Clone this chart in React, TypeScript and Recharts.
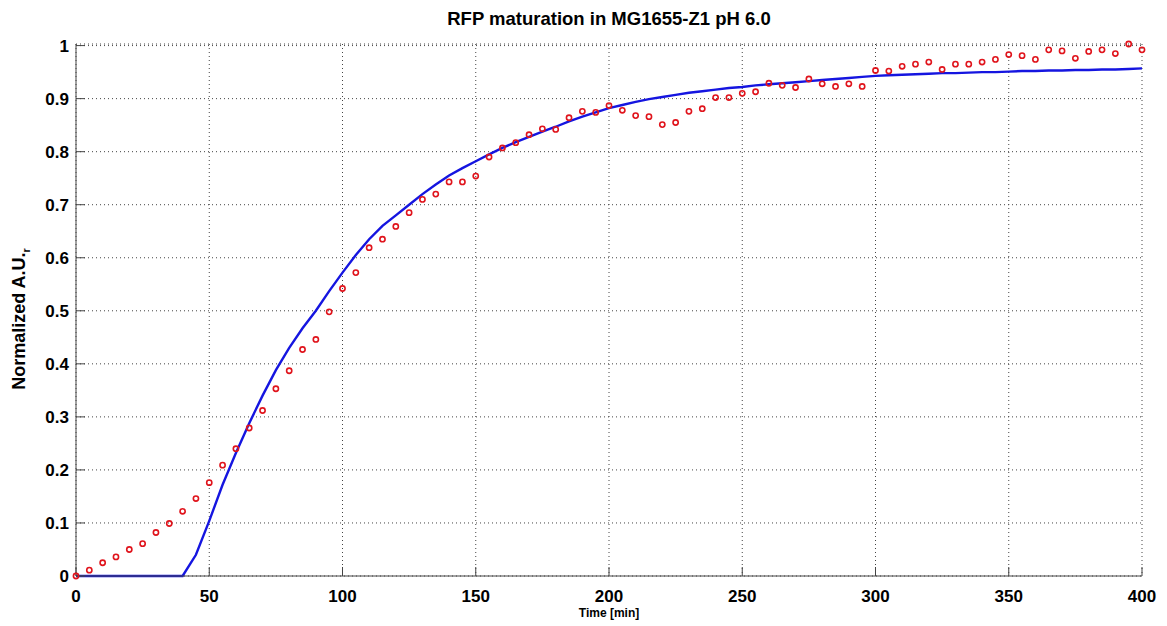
import React from 'react';
import { ComposedChart, Line, Scatter, XAxis, YAxis, CartesianGrid, Customized } from 'recharts';

// sampling times [min]
const times = [
  0, 5, 10, 15, 20, 25, 30, 35, 40, 45, 50, 55, 60, 65, 70, 75, 80, 85, 90, 95,
  100, 105, 110, 115, 120, 125, 130, 135, 140, 145, 150, 155, 160, 165, 170, 175, 180, 185, 190, 195,
  200, 205, 210, 215, 220, 225, 230, 235, 240, 245, 250, 255, 260, 265, 270, 275, 280, 285, 290, 295,
  300, 305, 310, 315, 320, 325, 330, 335, 340, 345, 350, 355, 360, 365, 370, 375, 380, 385, 390, 395, 400
];

// measured normalized fluorescence (red circles)
const measured = [
  0, 0.011, 0.025, 0.036, 0.05, 0.061, 0.082, 0.099, 0.122, 0.146, 0.176, 0.209, 0.24, 0.279, 0.312, 0.353, 0.387, 0.427, 0.446, 0.498,
  0.542, 0.572, 0.619, 0.635, 0.659, 0.685, 0.71, 0.72, 0.743, 0.743, 0.754, 0.79, 0.807, 0.817, 0.832, 0.843, 0.842, 0.864, 0.876, 0.874,
  0.887, 0.878, 0.868, 0.866, 0.851, 0.855, 0.876, 0.881, 0.902, 0.902, 0.91, 0.913, 0.929, 0.925, 0.921, 0.937, 0.928, 0.923, 0.928, 0.923,
  0.953, 0.952, 0.961, 0.965, 0.969, 0.955, 0.965, 0.965, 0.969, 0.974, 0.983, 0.981, 0.974, 0.992, 0.99, 0.976, 0.989, 0.992, 0.985, 1.003, 0.992
];

// model fit (blue line)
const fitted = [
  0, 0, 0, 0, 0, 0, 0, 0, 0, 0.04, 0.104, 0.172, 0.232, 0.288, 0.34, 0.388, 0.43, 0.467, 0.5, 0.537,
  0.572, 0.605, 0.635, 0.66, 0.68, 0.7, 0.72, 0.738, 0.755, 0.769, 0.782, 0.795, 0.807, 0.818, 0.828, 0.838, 0.847, 0.857, 0.866, 0.874,
  0.882, 0.888, 0.894, 0.899, 0.903, 0.907, 0.911, 0.914, 0.917, 0.92, 0.922, 0.925, 0.927, 0.929, 0.931, 0.933, 0.935, 0.937, 0.939, 0.941,
  0.943, 0.944, 0.945, 0.946, 0.947, 0.948, 0.948, 0.949, 0.95, 0.95, 0.951, 0.952, 0.952, 0.953, 0.953, 0.954, 0.954, 0.955, 0.955, 0.956, 0.957
];

const xTicks = [0, 50, 100, 150, 200, 250, 300, 350, 400];
const yTicks = [0, 0.1, 0.2, 0.3, 0.4, 0.5, 0.6, 0.7, 0.8, 0.9, 1];

const data = times.map((t, i) => ({ t, measured: measured[i], fitted: fitted[i] }));

const FONT = "'Liberation Sans', Arial, sans-serif";
const W = 1151;
const H = 617;

const Labels = () => (
  <g fontFamily={FONT} fontWeight="bold" fill="#000">
    <text x={601} y={10} textAnchor="middle" dominantBaseline="central" fontSize={18.5}>
      RFP maturation in MG1655-Z1 pH 6.0
    </text>
    <text x={601} y={605} textAnchor="middle" dominantBaseline="central" fontSize={12}>
      Time [min]
    </text>
    <text
      x={11}
      y={311}
      transform="rotate(-90 11 311)"
      textAnchor="middle"
      dominantBaseline="central"
      fontSize={18}
    >
      Normalized A.U.<tspan fontSize={11} dy={7}>r</tspan>
    </text>
  </g>
);

const CircleDot = (props: any) => (
  <circle cx={props.cx} cy={props.cy} r={2.6} fill="none" stroke="#e0141c" strokeWidth={1.6} />
);

export default function App() {
  const tickStyle = { fill: '#000', fontSize: 17, fontWeight: 'bold', fontFamily: FONT };
  const axisStroke = { stroke: '#444' };
  return (
    <div style={{ width: W, height: H, background: '#fff' }}>
      <ComposedChart width={W} height={H} data={data} margin={{ top: 36, right: 17, bottom: 0, left: 0 }}>
        <CartesianGrid stroke="#444" strokeDasharray="1 3" />
        <XAxis
          dataKey="t"
          type="number"
          domain={[0, 400]}
          ticks={xTicks}
          height={49}
          tickSize={-9}
          tickMargin={23}
          tick={tickStyle}
          axisLine={axisStroke}
          tickLine={axisStroke}
        />
        <XAxis
          xAxisId="top"
          orientation="top"
          type="number"
          domain={[0, 400]}
          ticks={xTicks}
          height={0}
          tickSize={-9}
          tick={false}
          axisLine={axisStroke}
          tickLine={axisStroke}
        />
        <YAxis
          type="number"
          domain={[0, 1]}
          ticks={yTicks}
          width={68}
          tickSize={-9}
          tickMargin={16}
          tick={tickStyle}
          tickFormatter={(v: number) => String(v)}
          axisLine={axisStroke}
          tickLine={axisStroke}
        />
        <YAxis
          yAxisId="right"
          orientation="right"
          type="number"
          domain={[0, 1]}
          ticks={yTicks}
          width={0}
          tickSize={-9}
          tick={false}
          axisLine={axisStroke}
          tickLine={axisStroke}
        />
        <Line
          dataKey="fitted"
          type="linear"
          stroke="#1515e0"
          strokeWidth={2.4}
          dot={false}
          activeDot={false}
          isAnimationActive={false}
        />
        <Scatter dataKey="measured" shape={<CircleDot />} isAnimationActive={false} />
        <Customized component={Labels} />
      </ComposedChart>
    </div>
  );
}
